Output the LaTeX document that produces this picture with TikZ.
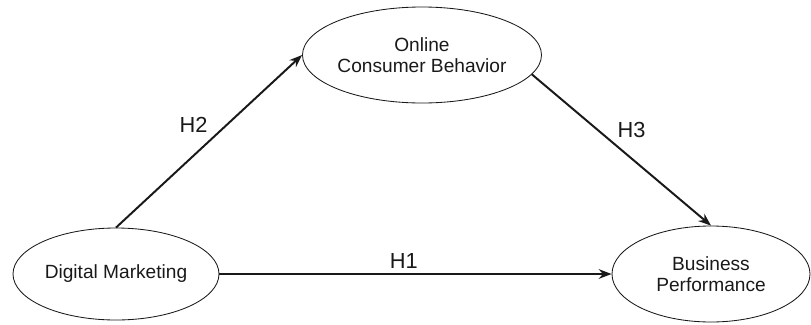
\documentclass[tikz,border=0pt]{standalone}
\usepackage{fontspec}
\setmainfont{Liberation Sans}
\usepackage{tikz}
\usetikzlibrary{positioning,arrows.meta,shapes.geometric}
\definecolor{pathblack}{RGB}{25,25,25}
\tikzset{
  construct/.style={ellipse, draw=pathblack, line width=0.6pt, inner sep=0pt, align=center, font=\fontsize{13.6}{15}\selectfont, text=pathblack},
  arr/.style={-{Stealth[length=3.2mm, width=2.4mm]}, line width=1.4pt, draw=pathblack},
  hlab/.style={font=\fontsize{15.5}{17}\selectfont, text=pathblack, inner sep=3pt},
}
\begin{document}
\begin{tikzpicture}[x=0.025cm, y=-0.025cm]
    \useasboundingbox (0,0) rectangle (811,324);
    \node[construct, minimum width=206*0.025cm, minimum height=96*0.025cm] (ocb) at (422,55) {Online\\Consumer Behavior};
    \node[construct, minimum width=206*0.025cm, minimum height=92*0.025cm] (dm) at (116,274) {Digital Marketing};
    \node[construct, minimum width=198*0.025cm, minimum height=96*0.025cm] (bp) at (711,274) {Business\\Performance};
    \draw[arr] (dm.north) -- node[hlab, pos=0.52, above left] {H2} (ocb.west);
    \draw[arr] (ocb.-10) -- node[hlab, pos=0.45, above right] {H3} (bp.north);
    \draw[arr] (dm.east) -- node[hlab, pos=0.47, above] {H1} (bp.west);
  \end{tikzpicture}
\end{document}
